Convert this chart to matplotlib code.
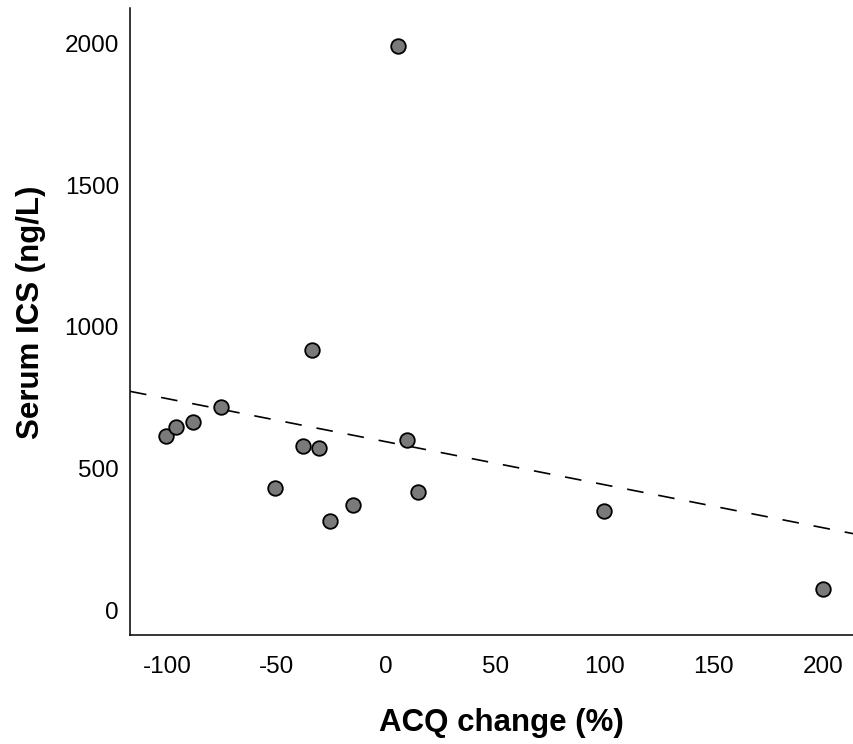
import numpy as np
import matplotlib
matplotlib.use("Agg")
import matplotlib.pyplot as plt

plt.rcParams['font.family'] = ['Liberation Sans', 'DejaVu Sans']
plt.rcParams['axes.unicode_minus'] = False

# ACQ change (%) vs serum ICS concentration (ng/L)
acq_change = [-100.8, -96.1, -88.5, -75.7, -50.8, -37.8, -34.0, -30.7,
              -25.5, -15.0, 5.5, 9.5, 14.6, 99.6, 200.0]
serum_ics = [617, 647, 665, 718, 431, 579, 918, 573,
             317, 372, 1991, 600, 417, 351, 75]

x_ticks = [-100, -50, 0, 50, 100, 150, 200]
y_ticks = [0, 500, 1000, 1500, 2000]

fig = plt.figure(figsize=(8.54, 7.44), dpi=100)
ax = fig.add_axes([130 / 854, 1 - 635 / 744, 1 - 130 / 854, (635 - 8) / 744])

# least-squares line through the points
slope, intercept = np.polyfit(acq_change, serum_ics, 1)
ax.axline((0, intercept), slope=slope, color='black', lw=1.2,
          linestyle=(0, (10, 9)), zorder=2)

ax.scatter(acq_change, serum_ics, s=110, facecolor='#7a7a7a',
           edgecolor='black', linewidth=1.3, zorder=3)

ax.set_xlim(-117.2, 214.2)
ax.set_ylim(-86.4, 2125)
ax.set_xticks(x_ticks)
ax.set_yticks(y_ticks)
ax.tick_params(length=0, labelsize=17.5)
ax.tick_params(axis='x', pad=15)
ax.tick_params(axis='y', pad=8)

for side in ['top', 'right']:
    ax.spines[side].set_visible(False)
for side in ['left', 'bottom']:
    ax.spines[side].set_linewidth(1.1)

ax.set_xlabel('ACQ change (%)', fontsize=22.5, fontweight='bold', labelpad=22)
ax.set_ylabel('Serum ICS (ng/L)', fontsize=22.5, fontweight='bold', labelpad=13)
ax.xaxis.label.set_x(0.513)
ax.yaxis.label.set_y(0.515)

fig.savefig('out.png', dpi=100)
